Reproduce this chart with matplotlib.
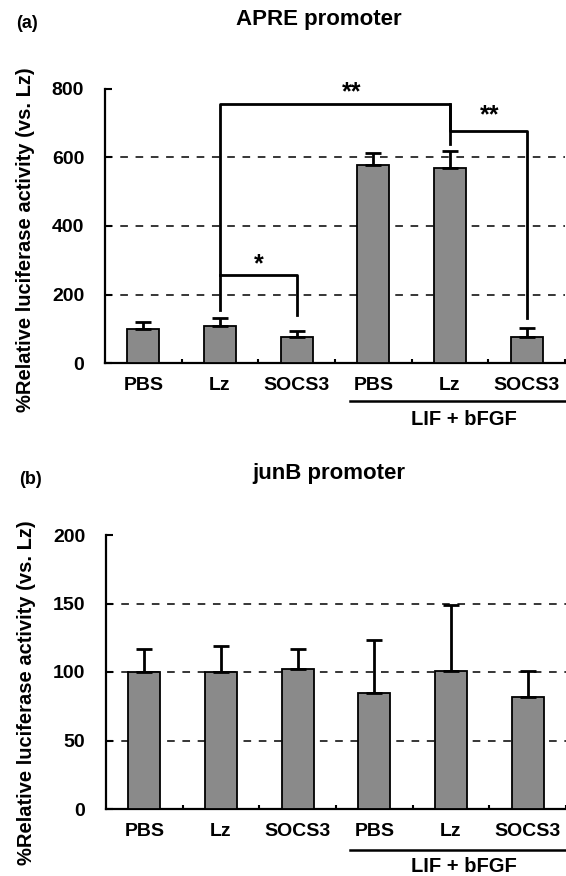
import numpy as np
import matplotlib
matplotlib.use("Agg")
from matplotlib import pyplot as plt
from matplotlib.lines import Line2D

plt.rcParams['font.family'] = ['Liberation Sans', 'DejaVu Sans']

# group labels, same for both panels
groups = ["PBS", "Lz", "SOCS3", "PBS", "Lz", "SOCS3"]

# (a) APRE promoter
apre_mean = [100, 109, 77, 577, 570, 77]
apre_err = [21, 23, 15, 36, 48, 24]

# (b) junB promoter
junb_mean = [100, 100, 102.5, 85, 100.7, 81.6]
junb_err = [17, 19, 14.5, 38.7, 47.9, 18.9]

W, H = 566, 876
bar_color = "#8a8a8a"
x = np.arange(len(groups))

fig = plt.figure(figsize=(W / 100, H / 100), dpi=100)


def px(xp, yp):
    # pixel position (from top-left) -> figure fraction
    return xp / W, 1 - yp / H


def draw_panel(ax, means, errs, ymax, step):
    ax.bar(x, means, width=0.42, color=bar_color, edgecolor="black",
           linewidth=1.3, zorder=3)
    ax.errorbar(x, means, yerr=[np.zeros(len(errs)), errs], fmt="none",
                ecolor="black", elinewidth=2, capsize=5.5, capthick=2,
                zorder=4)
    ax.set_xlim(-0.5, 5.5)
    ax.set_ylim(0, ymax)
    ax.set_yticks(np.arange(0, ymax + 1, step))
    for t in np.arange(step, ymax, step):
        ax.axhline(t, color="black", linestyle=(0, (5, 5)), linewidth=1.1,
                   zorder=1)
    ax.set_xticks(x)
    ax.set_xticklabels(groups, fontsize=14, fontweight="bold")
    ax.set_xticks(np.arange(0.5, 5.6, 1), minor=True)
    ax.tick_params(axis="x", which="major", length=0, pad=10)
    ax.tick_params(axis="x", which="minor", direction="in", length=3,
                   width=1.5)
    ax.tick_params(axis="y", direction="in", length=5, width=1.5,
                   labelsize=14, pad=15)
    for lab in ax.get_yticklabels():
        lab.set_fontweight("bold")
    ax.spines["top"].set_visible(False)
    ax.spines["right"].set_visible(False)
    ax.spines["left"].set_linewidth(1.6)
    ax.spines["bottom"].set_linewidth(1.6)


ax1 = fig.add_axes([105 / W, 1 - 363 / H, 460 / W, 274 / H])
ax2 = fig.add_axes([106 / W, 1 - 809 / H, 460 / W, 274 / H])

draw_panel(ax1, apre_mean, apre_err, 800, 200)
draw_panel(ax2, junb_mean, junb_err, 200, 50)

# titles, panel letters, y labels
fig.text(*px(319, 20), "APRE promoter", ha="center", va="center",
         fontsize=16, fontweight="bold")
fig.text(*px(329, 473), "junB promoter", ha="center", va="center",
         fontsize=16, fontweight="bold")
fig.text(*px(27, 23), "(a)", ha="center", va="center", fontsize=13,
         fontweight="bold")
fig.text(*px(31, 480), "(b)", ha="center", va="center", fontsize=13,
         fontweight="bold")
ylab = "%Relative luciferase activity (vs. Lz)"
fig.text(*px(26, 240), ylab, ha="center", va="center", rotation=90,
         fontsize=14.5, fontweight="bold")
fig.text(*px(27, 693), ylab, ha="center", va="center", rotation=90,
         fontsize=14.5, fontweight="bold")

# LIF + bFGF group marks
for y_line, y_text in [(401, 420), (850, 867)]:
    x0, y0 = px(350, y_line)
    x1, _ = px(566, y_line)
    fig.add_artist(Line2D([x0, x1], [y0, y0], color="black", linewidth=1.8))
    fig.text(*px(464, y_text), "LIF + bFGF", ha="center", va="center",
             fontsize=14.5, fontweight="bold")

# significance brackets on panel (a)
lw = 2
ax1.plot([1, 1, 4, 4], [155, 757, 757, 640], color="black", linewidth=lw,
         zorder=5, clip_on=False)
ax1.plot([4, 4, 5, 5], [757, 678, 678, 130], color="black", linewidth=lw,
         zorder=5)
ax1.plot([1, 2, 2], [256, 256, 140], color="black", linewidth=lw, zorder=5)
ax1.text(2.72, 790, "**", ha="center", va="center", fontsize=18,
         fontweight="bold")
ax1.text(4.52, 722, "**", ha="center", va="center", fontsize=18,
         fontweight="bold")
ax1.text(1.5, 288, "*", ha="center", va="center", fontsize=18,
         fontweight="bold")

fig.savefig("out.png", dpi=100)
